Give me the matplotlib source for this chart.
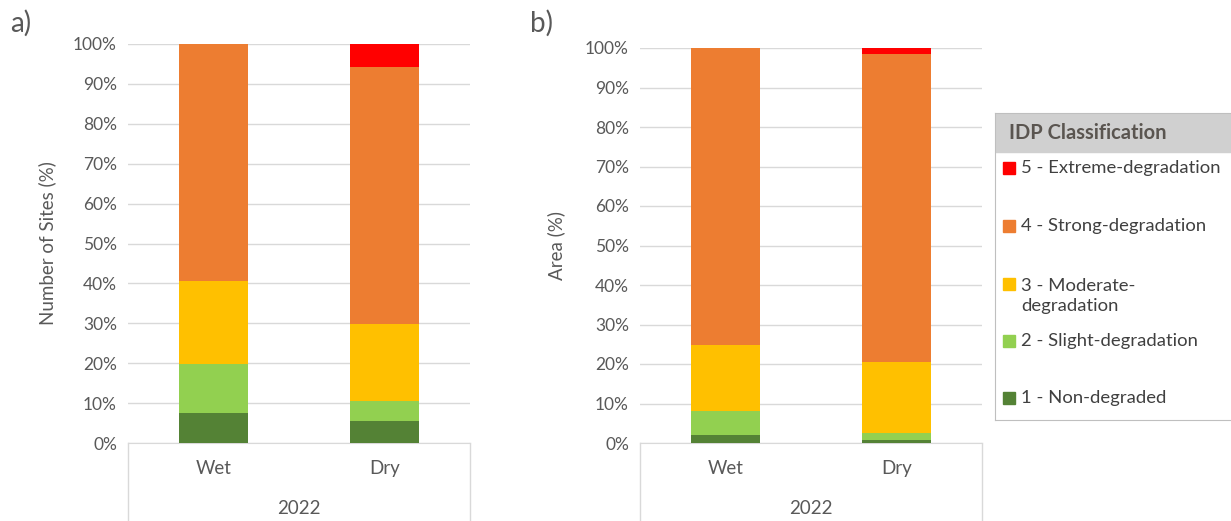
import matplotlib.pyplot as plt
from matplotlib.ticker import PercentFormatter

plt.rcParams['font.family'] = ['Lato', 'DejaVu Sans']

seasons = ['Wet', 'Dry']
year = '2022'
classes = ['1 - Non-degraded', '2 - Slight-degradation', '3 - Moderate-\ndegradation',
           '4 - Strong-degradation', '5 - Extreme-degradation']
colors = ['#548235', '#92D050', '#FFC000', '#ED7D31', '#FF0000']

# share of each class (%), bottom to top, per season [Wet, Dry]
sites_non = [7.5, 5.4]
sites_slight = [12.3, 5.1]
sites_moderate = [20.7, 19.4]
sites_strong = [59.5, 64.3]
sites_extreme = [0.0, 5.8]

area_non = [2.1, 0.8]
area_slight = [5.9, 1.7]
area_moderate = [16.8, 18.1]
area_strong = [75.2, 78.0]
area_extreme = [0.0, 1.4]

text_c = '#595959'
grid_c = '#D9D9D9'

fig = plt.figure(figsize=(12.31, 5.21), dpi=100)
W, H = 1231, 521


def stacked(ax, series, ylabel, labelpad):
    x = range(len(seasons))
    bottom = [0.0] * len(seasons)
    for vals, c in zip(series, colors):
        ax.bar(x, vals, bottom=bottom, width=0.4, color=c, zorder=3)
        bottom = [b + v for b, v in zip(bottom, vals)]
    ax.set_xlim(-0.5, 1.5)
    ax.set_ylim(0, 100)
    ax.set_yticks(range(0, 101, 10))
    ax.yaxis.set_major_formatter(PercentFormatter(decimals=0))
    ax.grid(axis='y', color=grid_c, linewidth=1, zorder=0)
    for s in ['top', 'right', 'left']:
        ax.spines[s].set_visible(False)
    ax.spines['bottom'].set_color(grid_c)
    ax.tick_params(length=0, labelsize=12.5, colors=text_c, pad=8)
    ax.set_xticks(list(x))
    ax.set_xticklabels(seasons, fontsize=13.5)
    ax.tick_params(axis='x', pad=12)
    ax.set_ylabel(ylabel, fontsize=13.5, color=text_c, labelpad=labelpad)
    ax.text(0.5, -0.165, year, transform=ax.transAxes, ha='center', va='center',
            fontsize=13.5, color=text_c)
    for xa in (0, 1):
        ax.plot([xa, xa], [0, -0.2], transform=ax.transAxes, color=grid_c,
                linewidth=1, clip_on=False)


ax1 = fig.add_axes([128 / W, 1 - 443 / H, 342 / W, 399 / H])
stacked(ax1, [sites_non, sites_slight, sites_moderate, sites_strong, sites_extreme],
        'Number of Sites (%)', 12)
ax2 = fig.add_axes([640 / W, 1 - 443 / H, 342 / W, 395 / H])
stacked(ax2, [area_non, area_slight, area_moderate, area_strong, area_extreme],
        'Area (%)', 14)

fig.text(10 / W, 1 - 23 / H, 'a)', fontsize=20, color=text_c, va='center')
fig.text(530 / W, 1 - 23 / H, 'b)', fontsize=20, color=text_c, va='center')

# legend box, drawn in pixel units relative to its top-left corner
lax = fig.add_axes([995 / W, 1 - 420 / H, 240 / W, 307 / H])
lax.set_xlim(0, 240)
lax.set_ylim(307, 0)
lax.set_xticks([])
lax.set_yticks([])
for s in lax.spines.values():
    s.set_color('#BFBFBF')
lax.add_patch(plt.Rectangle((0, 0), 240, 39, color='#D0D0D0', zorder=1))
lax.text(14, 20, 'IDP Classification', fontsize=14.5, fontweight='bold',
         color='#5a5550', va='center')
entry_y = [285, 228, 183, 113, 55]
for lab, c, yy in zip(classes, colors, entry_y):
    first_y = yy - 12 if '\n' in lab else yy
    lax.add_patch(plt.Rectangle((8, first_y - 6), 12, 12, color=c))
    lax.text(26, yy, lab, fontsize=13.3, color='#404040', va='center',
             linespacing=1.25)

fig.savefig('out.png', dpi=100)
